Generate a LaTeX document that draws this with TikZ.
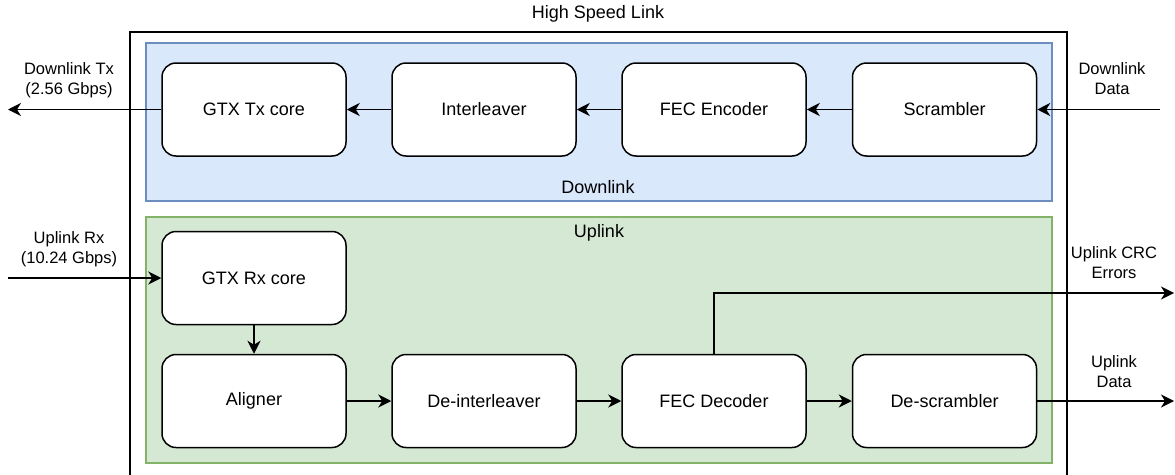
\documentclass[tikz,border=0pt]{standalone}
\usepackage{fontspec}
\setmainfont{Liberation Sans}
\usetikzlibrary{arrows.meta}
\definecolor{dlfill}{HTML}{DAE8FC}
\definecolor{dlline}{HTML}{6C8EBF}
\definecolor{ulfill}{HTML}{D5E8D4}
\definecolor{ulline}{HTML}{82B366}
\tikzset{
  block/.style={draw=black, fill=white, line width=1.5pt, rounded corners=14pt,
    minimum width=184pt, minimum height=93pt, inner sep=0pt,
    font=\fontsize{18}{21}\selectfont},
  lbl/.style={align=center, inner sep=0pt, font=\fontsize{16.5}{20}\selectfont},
  grouplbl/.style={inner sep=0pt, font=\fontsize{18}{21}\selectfont},
  link/.style={line width=1.5pt, -{Stealth[length=13pt,width=13pt,inset=4pt]}},
}
\begin{document}
\begin{tikzpicture}[x=1pt, y=-1pt]
\clip (0,0) rectangle (1175,474);
\fill[white] (0,0) rectangle (1175,474);

% outer container and the two sub-groups
\draw[line width=1.5pt] (130,32) rectangle (1067,500);
\draw[fill=dlfill, draw=dlline, line width=1.5pt] (146,43) rectangle (1052,201);
\draw[fill=ulfill, draw=ulline, line width=1.5pt] (146,217) rectangle (1052,463);

\node[grouplbl] (title) at (598,14) {High Speed Link};
\node[grouplbl] (dlname) at (598,187) {Downlink};
\node[grouplbl] (ulname) at (599,233) {Uplink};

% downlink chain
\node[block] (gtxtx) at (254,109.5) {GTX Tx core};
\node[block] (intl)  at (484,109.5) {Interleaver};
\node[block] (fece)  at (714,109.5) {FEC Encoder};
\node[block] (scr)   at (944.5,109.5) {Scrambler};

% uplink chain
\node[block] (gtxrx) at (254,278) {GTX Rx core};
\node[block] (align) at (254,401) {Aligner};
\node[block] (deint) at (484,401) {De-interleaver};
\node[block] (fecd)  at (714,401) {FEC Decoder};
\node[block] (desc)  at (944.5,401) {De-scrambler};

% external ports
\coordinate (dlin)  at (1160,109.5);
\coordinate (dlout) at (8,109.5);
\coordinate (ulin)  at (8,278);
\coordinate (crcout) at (1174,293);
\coordinate (ulout) at (1174,401);

\node[lbl] (dltxl) at (69,80) {Downlink Tx\\(2.56 Gbps)};
\node[lbl] (dldl)  at (1112,79) {Downlink\\Data};
\node[lbl] (ulrxl) at (69,249) {Uplink Rx\\(10.24 Gbps)};
\node[lbl] (crcl)  at (1114,263) {Uplink CRC\\Errors};
\node[lbl] (uldl)  at (1114,372) {Uplink\\Data};

% connectors
\draw[link] (dlin) -- (scr.east);
\draw[link] (scr.west) -- (fece.east);
\draw[link] (fece.west) -- (intl.east);
\draw[link] (intl.west) -- (gtxtx.east);
\draw[link] (gtxtx.west) -- (dlout);

\draw[link] (ulin) -- (gtxrx.west);
\draw[link] (gtxrx.south) -- (align.north);
\draw[link] (align.east) -- (deint.west);
\draw[link] (deint.west -| deint.east) -- (fecd.west);
\draw[link] (fecd.east) -- (desc.west);
\draw[link] (desc.east) -- (ulout);
\draw[link] (fecd.north) |- (crcout);
\end{tikzpicture}
\end{document}
